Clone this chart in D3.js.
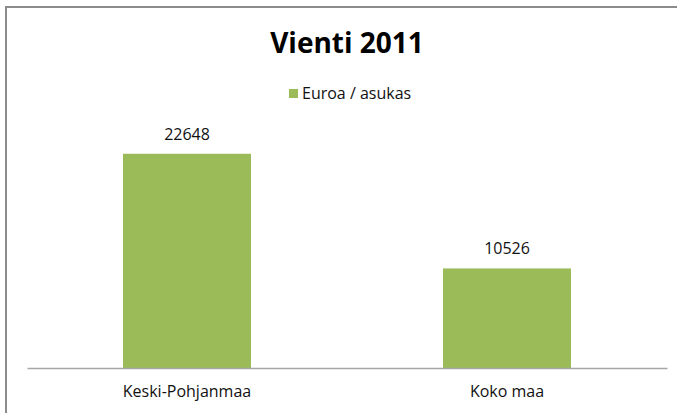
<!DOCTYPE html>
<html>
<head>
<meta charset="utf-8">
<script src="https://cdn.jsdelivr.net/npm/d3@7"></script>
<style>
  html, body { margin: 0; padding: 0; background: #fff; }
  svg { display: block; }
  text { font-family: "Open Sans", "Liberation Sans", sans-serif; }
</style>
</head>
<body>
<svg id="chart"></svg>
<script>
const width = 677;
const height = 413;

const title = 'Vienti 2011';
const seriesName = 'Euroa / asukas';
const categories = ['Keski-Pohjanmaa', 'Koko maa'];
const values = [22648, 10526];
const yMax = 25000;

const green = '#9bbb59';

const svg = d3.select('#chart')
  .attr('width', width)
  .attr('height', height);

// outer frame (cropped on right and bottom)
svg.append('path')
  .attr('d', 'M6,420 V7 H690')
  .attr('fill', 'none')
  .attr('stroke', '#8c8c8c')
  .attr('stroke-width', 2);

const x = d3.scaleBand()
  .domain(categories)
  .range([27, 667])
  .paddingInner(0.6)
  .paddingOuter(0.3);

const y = d3.scaleLinear()
  .domain([0, yMax])
  .range([368, 131.5]);

svg.append('text')
  .attr('x', 347)
  .attr('y', 53)
  .attr('text-anchor', 'middle')
  .attr('font-size', 28)
  .attr('font-weight', 'bold')
  .attr('fill', '#000')
  .text(title);

// legend
const legend = svg.append('g')
  .attr('transform', 'translate(289,89)');
legend.append('rect')
  .attr('width', 9)
  .attr('height', 9)
  .attr('fill', green);
legend.append('text')
  .attr('x', 13)
  .attr('y', 9.5)
  .attr('font-size', 16)
  .attr('fill', '#111')
  .text(seriesName);

svg.append('g')
  .selectAll('rect')
  .data(values)
  .enter()
  .append('rect')
  .attr('x', (d, i) => x(categories[i]))
  .attr('y', (d) => y(d))
  .attr('width', x.bandwidth())
  .attr('height', (d) => y(0) - y(d))
  .attr('fill', green);

svg.append('g')
  .selectAll('text')
  .data(values)
  .enter()
  .append('text')
  .attr('x', (d, i) => x(categories[i]) + x.bandwidth() / 2)
  .attr('y', (d) => y(d) - 14)
  .attr('text-anchor', 'middle')
  .attr('font-size', 16)
  .attr('fill', '#111')
  .text((d) => d);

const axis = d3.axisBottom(x)
  .tickSize(0)
  .tickPadding(18);

const axisG = svg.append('g')
  .attr('transform', `translate(0,${y(0)})`)
  .call(axis);
axisG.select('.domain')
  .attr('stroke', '#a6a6a6')
  .attr('stroke-width', 1.3);
axisG.selectAll('text')
  .attr('font-size', 16)
  .attr('fill', '#111')
  .style('font-family', '"Open Sans", "Liberation Sans", sans-serif');
</script>
</body>
</html>
